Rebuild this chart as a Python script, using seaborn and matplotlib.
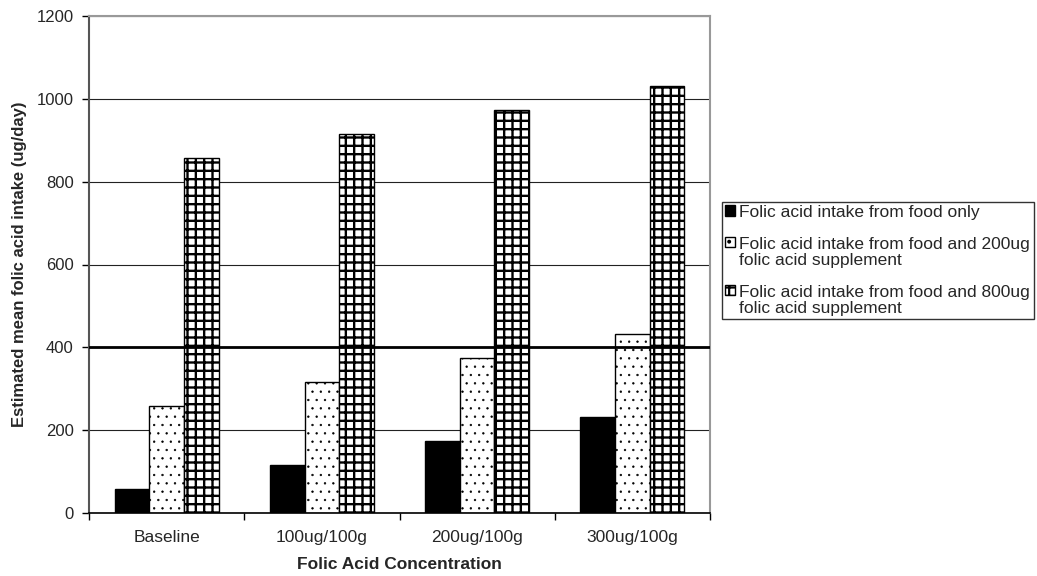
import matplotlib
matplotlib.use("Agg")
import matplotlib.pyplot as plt
import seaborn as sns
import pandas as pd
import numpy as np

categories = ["Baseline", "100ug/100g", "200ug/100g", "300ug/100g"]
series_names = [
    "Folic acid intake from food only",
    "Folic acid intake from food and 200ug\nfolic acid supplement",
    "Folic acid intake from food and 800ug\nfolic acid supplement",
]
food_only = [58, 116, 174, 232]
food_200 = [258, 316, 374, 432]
food_800 = [858, 916, 974, 1032]
y_ticks = [0, 200, 400, 600, 800, 1000, 1200]
reference_level = 400

sns.set_theme(style="white")
plt.rcParams["font.family"] = ["Liberation Sans", "DejaVu Sans"]
plt.rcParams["hatch.linewidth"] = 1.6
plt.rcParams["hatch.color"] = "black"

df = pd.DataFrame({
    "Concentration": categories * 3,
    "Intake": food_only + food_200 + food_800,
    "Series": [series_names[0]] * 4 + [series_names[1]] * 4 + [series_names[2]] * 4,
})

fig = plt.figure(figsize=(10.37, 5.76), dpi=100)
ax = fig.add_axes([89 / 1037, 1 - 513 / 576, (710 - 89) / 1037, (513 - 16) / 576])

sns.barplot(data=df, x="Concentration", y="Intake", hue="Series",
            palette=["black", "white", "white"], edgecolor="black",
            linewidth=1.0, width=0.67, gap=0, ax=ax, saturation=1, errorbar=None)

hatches = ["", "..", "++"]
hatch_lw = [1.0, 0.45, 1.7]
for cont, h, hl in zip(ax.containers, hatches, hatch_lw):
    for p in cont:
        p.set_hatch(h)
        try:
            p.set_hatch_linewidth(hl)
        except Exception:
            pass

ax.set_ylim(0, 1200)
ax.set_xlim(-0.5, 3.5)
ax.set_yticks(y_ticks)
ax.yaxis.grid(True, color="#222222", linewidth=0.8)
ax.set_axisbelow(True)
ax.axhline(reference_level, color="black", linewidth=2.0, zorder=4)

ax.set_xticks(range(len(categories)))
ax.set_xticklabels(categories, fontsize=12.5)
ax.set_xticks(np.arange(-0.5, 4.0, 1.0), minor=True)
ax.tick_params(axis="x", which="major", length=0, pad=12)
ax.tick_params(axis="x", which="minor", length=5, width=1, color="black", direction="out", bottom=True)
ax.tick_params(axis="y", length=5, width=1, color="black", direction="out", left=True, labelsize=12, pad=6)

for s in ["top", "right"]:
    ax.spines[s].set_color("#999999")
    ax.spines[s].set_linewidth(1.5)
ax.spines["left"].set_color("#555555")
ax.spines["left"].set_linewidth(1.5)
ax.spines["bottom"].set_color("black")
ax.spines["bottom"].set_linewidth(1.2)

ax.set_xlabel("Folic Acid Concentration", fontsize=12.5, fontweight="bold", labelpad=9)
ax.set_ylabel("Estimated mean folic acid intake (ug/day)", fontsize=12, fontweight="bold", labelpad=7)

if ax.get_legend() is not None:
    ax.get_legend().remove()
leg = fig.legend(list(ax.containers), series_names, loc="upper left",
                 bbox_to_anchor=(722 / 1037, 1 - 202 / 576),
                 frameon=True, fancybox=False, edgecolor="black", fontsize=12.5,
                 handlelength=0.55, handleheight=0.55, handletextpad=0.25,
                 labelspacing=0.95, borderpad=0.2, borderaxespad=0)
leg.get_frame().set_linewidth(1.0)
for t in leg.get_texts():
    t.set_linespacing(1.1)
try:
    for col in leg._legend_handle_box.get_children():
        for hp in col.get_children():
            hp.align = "top"
except Exception:
    pass

fig.savefig("out.png", dpi=100, facecolor="white")
